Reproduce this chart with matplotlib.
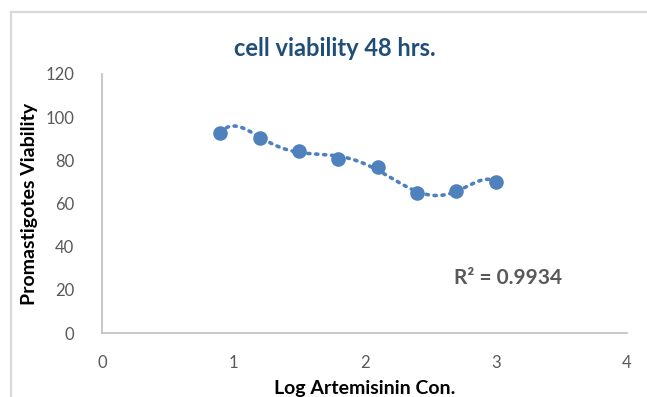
import numpy as np
import matplotlib
matplotlib.use("Agg")
import matplotlib.pyplot as plt
from matplotlib.lines import Line2D

# data
log_conc = [0.9, 1.2, 1.5, 1.8, 2.1, 2.4, 2.7, 3.0]
viability = [92.8, 90.5, 84.5, 80.5, 76.8, 64.7, 65.9, 70.1]
x_ticks = [0, 1, 2, 3, 4]
y_ticks = [0, 20, 40, 60, 80, 100, 120]
r2_label = "R² = 0.9934"

blue = "#4f81bd"
grey = "#595959"
axis_grey = "#bfbfbf"

plt.rcParams["font.family"] = ["Lato", "DejaVu Sans"]

fig = plt.figure(figsize=(6.47, 3.97), dpi=100)
ax = fig.add_axes([0.158, 0.161, 0.811, 0.653])

# polynomial trendline through the points (dotted, like Excel)
coef = np.polyfit(log_conc, viability, 6)
xs = np.linspace(min(log_conc), max(log_conc), 200)
ax.plot(xs, np.polyval(coef, xs), linestyle=(0, (0.6, 1.6)), color=blue,
        linewidth=2.6, dash_capstyle="round", zorder=2)
ax.plot(log_conc, viability, "o", color=blue, markersize=10.5,
        markeredgewidth=0, zorder=3)

ax.set_xlim(0, 4)
ax.set_ylim(0, 120)
ax.set_xticks(x_ticks)
ax.set_yticks(y_ticks)
ax.tick_params(length=0, labelsize=12, labelcolor=grey)
ax.tick_params(axis="x", pad=16)
ax.tick_params(axis="y", pad=20)
for side in ["top", "right"]:
    ax.spines[side].set_visible(False)
for side in ["left", "bottom"]:
    ax.spines[side].set_color(axis_grey)
    ax.spines[side].set_linewidth(1.2)

ax.set_xlabel("Log Artemisinin Con.", fontsize=14, fontweight="bold",
              color="black", labelpad=6)
fig.text(30 / 647, 1 - 204 / 397, "Promastigotes Viability", rotation=90,
         fontsize=14, fontweight="bold", ha="center", va="center")

fig.text(335 / 647, 1 - 49 / 397, "cell viability 48 hrs.", fontsize=17,
         fontweight="bold", color="#1f4e79", ha="center", va="center")
fig.text(508 / 647, 1 - 278 / 397, r2_label, fontsize=15, fontweight="bold",
         color=grey, ha="center", va="center")

# outer chart border
fig.add_artist(Line2D([11 / 647, 1], [1 - 12 / 397] * 2, color="#d9d9d9",
                      linewidth=1.6, transform=fig.transFigure))
fig.add_artist(Line2D([11 / 647] * 2, [0, 1 - 12 / 397], color="#d9d9d9",
                      linewidth=1.6, transform=fig.transFigure))

fig.savefig("out.png", dpi=100)
